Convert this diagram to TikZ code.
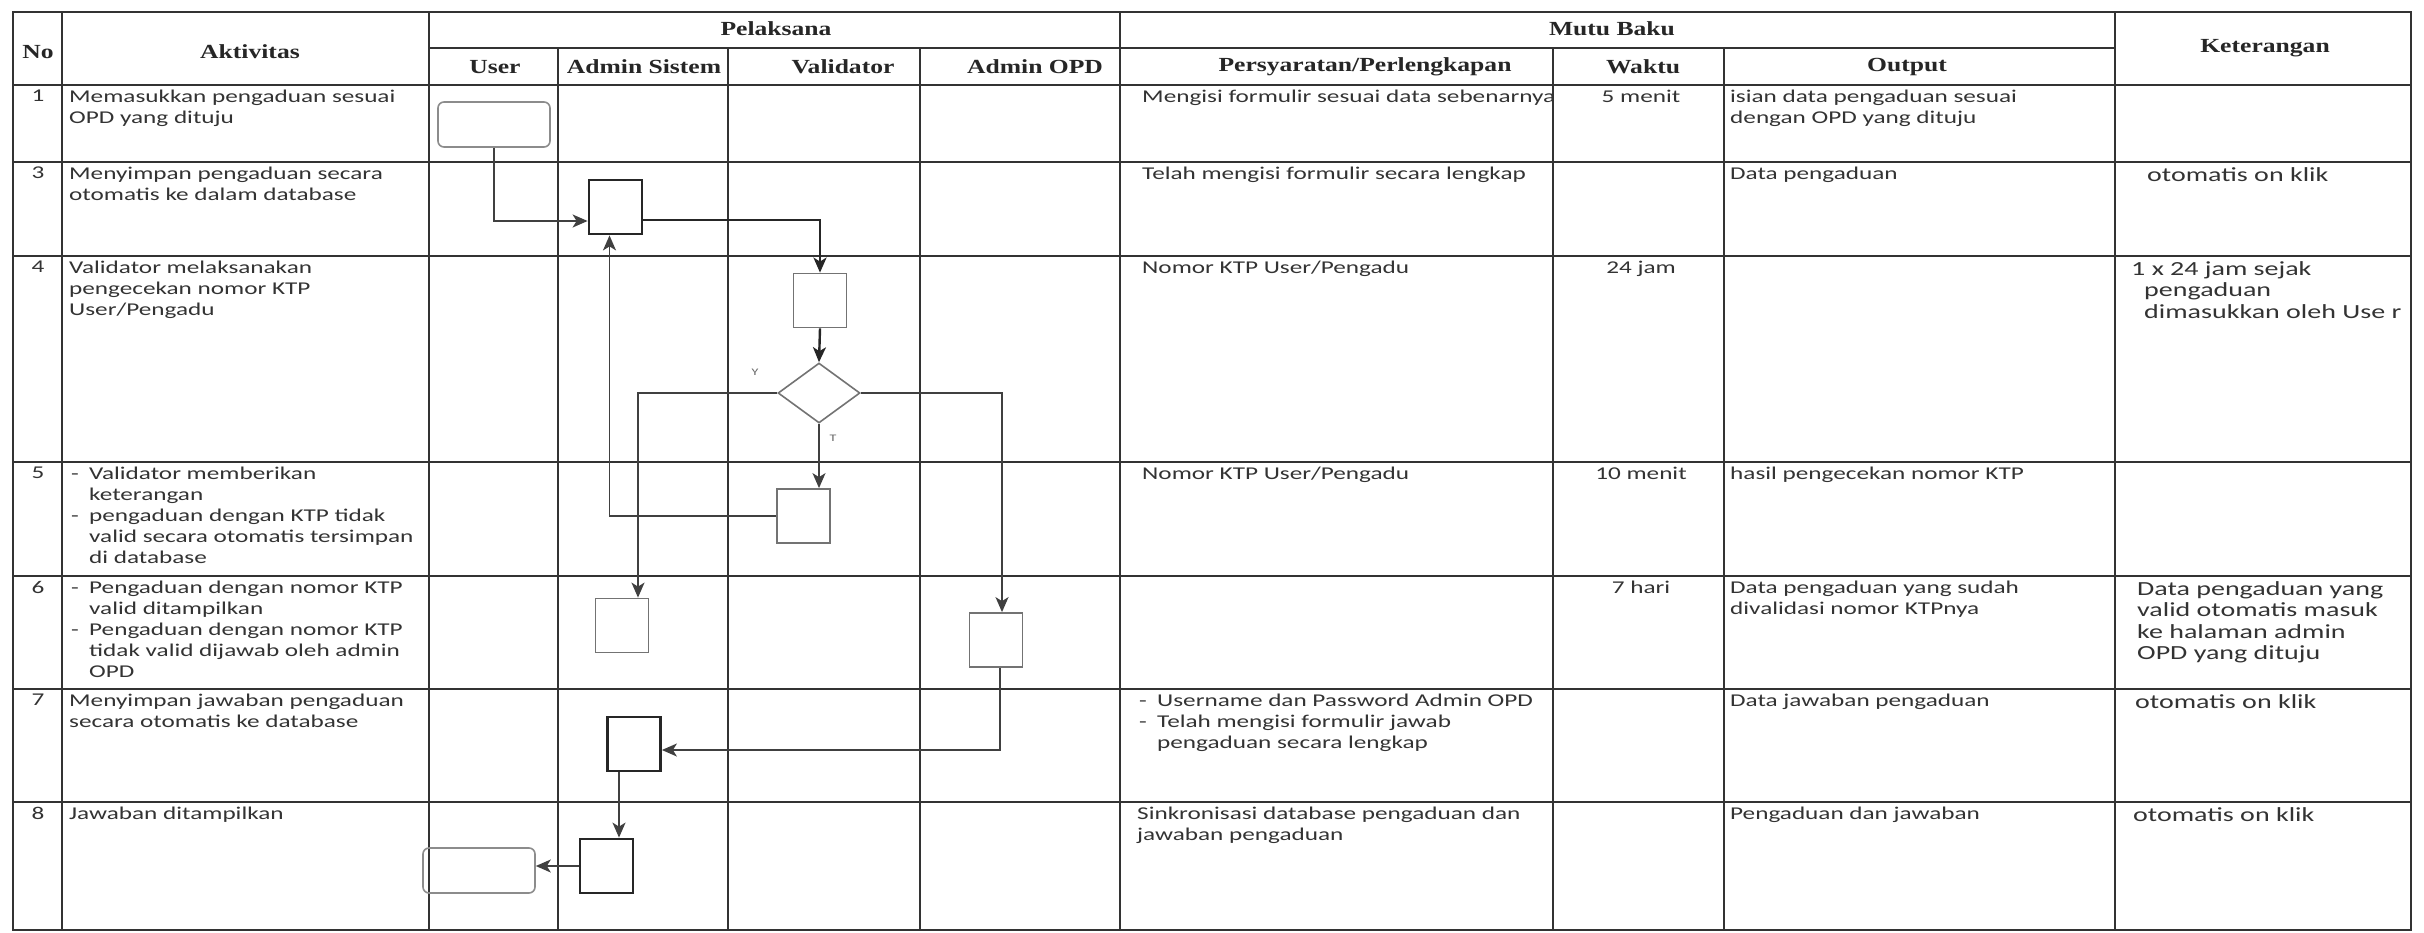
\documentclass[tikz,border=0pt]{standalone}
\usepackage{fontspec}
\setmainfont[FakeStretch=1.4]{Carlito}
\newfontfamily\hdfont[FakeStretch=1.28]{Liberation Serif}
\usetikzlibrary{arrows.meta,shapes.geometric}
\tikzset{
  tb/.style={line width=1.8pt,black!80},
  hd/.style={font=\hdfont\bfseries\fontsize{20}{24}\selectfont,text=black!85,inner sep=0pt},
  tx/.style={font=\fontsize{18}{21}\selectfont,text=black!80,align=left,anchor=north west,inner sep=0pt},
  nr/.style={font=\fontsize{18}{21}\selectfont,text=black!80,anchor=north,inner sep=0pt},
  kt/.style={tx,font=\fontsize{20}{21.5}\selectfont},
  pr/.style={draw=black!55,line width=1.8pt,minimum width=53pt,minimum height=54pt,inner sep=0pt},
  prk/.style={pr,draw=black!85,line width=2.8pt},
  tm/.style={draw=black!45,line width=1.6pt,rounded corners=6pt,minimum width=112pt,minimum height=45pt,inner sep=0pt},
  dc/.style={diamond,draw=black!55,line width=1.6pt,minimum width=82pt,minimum height=60pt,inner sep=0pt},
  fl/.style={line width=1.6pt,black!75,-{Stealth[length=15pt,width=13pt,inset=4pt]}},
  lb/.style={font=\fontsize{10}{10}\selectfont,text=black!60,inner sep=0pt}
}
\newcommand{\dsh}{\makebox[18pt][l]{-}}
\newcommand{\dind}{\hspace*{18pt}}

\begin{document}
\begin{tikzpicture}[x=1pt,y=-1pt]
\fill[white] (0,0) rectangle (2424,932);
\useasboundingbox (0,0) rectangle (2424,932);
\draw[tb] (13,12) rectangle (2411,930);
\draw[tb] (429,48) -- (2115,48);
\draw[tb] (13,85) -- (2411,85);
\draw[tb] (13,162) -- (2411,162);
\draw[tb] (13,256) -- (2411,256);
\draw[tb] (13,462) -- (2411,462);
\draw[tb] (13,576) -- (2411,576);
\draw[tb] (13,689) -- (2411,689);
\draw[tb] (13,802) -- (2411,802);
\draw[tb] (62,12) -- (62,930);
\draw[tb] (429,12) -- (429,930);
\draw[tb] (558,48) -- (558,930);
\draw[tb] (728,48) -- (728,930);
\draw[tb] (920,48) -- (920,930);
\draw[tb] (1120,12) -- (1120,930);
\draw[tb] (1553,48) -- (1553,930);
\draw[tb] (1724,48) -- (1724,930);
\draw[tb] (2115,12) -- (2115,930);
\node[hd] (hNo) at (38,52) {No};
\node[hd] (hAkt) at (250,52) {Aktivitas};
\node[hd] (hPel) at (776,29) {Pelaksana};
\node[hd] (hUsr) at (495,67) {User};
\node[hd] (hAS) at (644,67) {Admin Sistem};
\node[hd] (hVal) at (843,67) {Validator};
\node[hd] (hOPD) at (1035,67) {Admin OPD};
\node[hd] (hMB) at (1612,29) {Mutu Baku};
\node[hd] (hPrs) at (1365,67) {Persyaratan/Perlengkapan};
\node[hd] (hWkt) at (1643,67) {Waktu};
\node[hd] (hOut) at (1907,67) {Output};
\node[hd] (hKet) at (2265,48) {Keterangan};
\node[nr] (n1) at (38,90) {1};
\node[tx] (a1) at (69,90) {Memasukkan pengaduan sesuai\\OPD yang dituju};
\node[tx] (p1) at (1142,90) {Mengisi formulir sesuai data sebenarnya};
\node[nr] (w1) at (1641,90) {5 menit};
\node[tx] (o1) at (1730,90) {isian data pengaduan sesuai\\dengan OPD yang dituju};
\node[nr] (n3) at (38,167) {3};
\node[tx] (a3) at (69,167) {Menyimpan pengaduan secara\\otomatis ke dalam database};
\node[tx] (p3) at (1142,167) {Telah mengisi formulir secara lengkap};
\node[tx] (o3) at (1730,167) {Data pengaduan};
\node[kt] (k3) at (2147,167) {otomatis on klik};
\node[nr] (n4) at (38,261) {4};
\node[tx] (a4) at (69,261) {Validator melaksanakan\\pengecekan nomor KTP\\User/Pengadu};
\node[tx] (p4) at (1142,261) {Nomor KTP User/Pengadu};
\node[nr] (w4) at (1641,261) {24 jam};
\node[kt] (k4) at (2131,261) {1 x 24 jam sejak\\\hspace*{13pt}pengaduan\\\hspace*{13pt}dimasukkan oleh Use r};
\node[nr] (n5) at (38,467) {5};
\node[tx] (a5) at (71,467) {\dsh Validator memberikan\\\dind keterangan\\\dsh pengaduan dengan KTP tidak\\\dind valid secara otomatis tersimpan\\\dind di database};
\node[tx] (p5) at (1142,467) {Nomor KTP User/Pengadu};
\node[nr] (w5) at (1641,467) {10 menit};
\node[tx] (o5) at (1730,467) {hasil pengecekan nomor KTP};
\node[nr] (n6) at (38,581) {6};
\node[tx] (a6) at (71,581) {\dsh Pengaduan dengan nomor KTP\\\dind valid ditampilkan\\\dsh Pengaduan dengan nomor KTP\\\dind tidak valid dijawab oleh admin\\\dind OPD};
\node[nr] (w6) at (1641,581) {7 hari};
\node[tx] (o6) at (1730,581) {Data pengaduan yang sudah\\divalidasi nomor KTPnya};
\node[kt] (k6) at (2137,581) {Data pengaduan yang\\valid otomatis masuk\\ke halaman admin\\OPD yang dituju};
\node[nr] (n7) at (38,694) {7};
\node[tx] (a7) at (69,694) {Menyimpan jawaban pengaduan\\secara otomatis ke database};
\node[tx] (p7) at (1139,694) {\dsh Username dan Password Admin OPD\\\dsh Telah mengisi formulir jawab\\\dind pengaduan secara lengkap};
\node[tx] (o7) at (1730,694) {Data jawaban pengaduan};
\node[kt] (k7) at (2135,694) {otomatis on klik};
\node[nr] (n8) at (38,807) {8};
\node[tx] (a8) at (69,807) {Jawaban ditampilkan};
\node[tx] (p8) at (1137,807) {Sinkronisasi database pengaduan dan\\jawaban pengaduan};
\node[tx] (o8) at (1730,807) {Pengaduan dan jawaban};
\node[kt] (k8) at (2133,807) {otomatis on klik};
\node[tm] (userA) at (494,124.5) {};
\node[prk] (sys1) at (615.5,207) {};
\node[pr] (val1) at (820,300.5) {};
\node[dc] (dec) at (819,393) {};
\node[pr] (val2) at (803.5,516) {};
\node[pr] (sys2) at (622,625.5) {};
\node[pr] (opd1) at (996,640) {};
\node[prk] (sys3) at (634,744) {};
\node[prk] (sys4) at (606.5,866) {};
\node[tm] (userB) at (479,870.5) {};
\node[lb] (ly) at (755,372) {Y};
\node[lb] (lt) at (833,438) {T};
\draw[fl] (userA.south) |- ([yshift=-14pt]sys1.west);
\draw[fl,line width=2.6pt,black!85] ([yshift=-13pt]sys1.east) -| (val1.north);
\draw[fl,line width=2.4pt,black!85] (val1.south) -- (dec.north);
\draw[fl] (dec.west) -| ([xshift=16pt]sys2.north);
\draw[fl] (dec.south) -- (dec.south |- val2.north);
\draw[fl] (dec.east) -| ([xshift=6pt]opd1.north);
\draw[fl] (val2.west) -| ([xshift=-6pt]sys1.south);
\draw[fl] ([xshift=4pt]opd1.south) |- ([yshift=-6pt]sys3.east);
\draw[fl] ([xshift=-15pt]sys3.south) -- ([xshift=-15pt]sys3.south |- sys4.north);
\draw[fl] (sys4.west) -- (sys4.west -| userB.east);
\end{tikzpicture}
\end{document}
